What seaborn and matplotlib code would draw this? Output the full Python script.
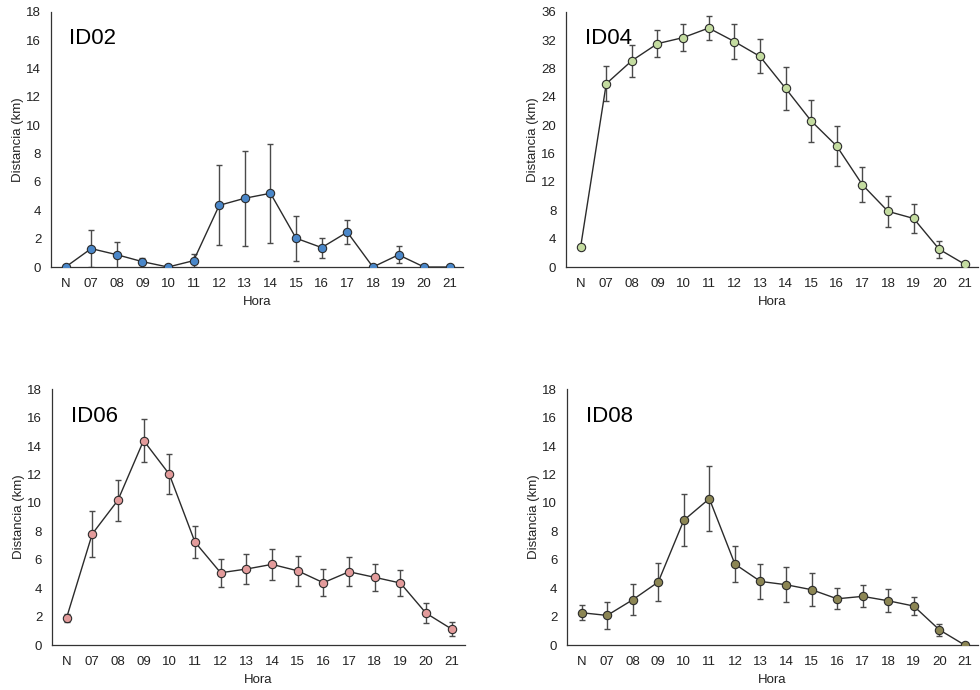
import numpy as np
import pandas as pd
import matplotlib
matplotlib.use('Agg')
import matplotlib.pyplot as plt
import seaborn as sns

sns.set_style('white')
plt.rcParams['font.family'] = ['Liberation Sans', 'DejaVu Sans']

# Datos
horas = ['N', '07', '08', '09', '10', '11', '12', '13', '14', '15', '16', '17', '18', '19', '20', '21']

id02_media = [0, 1.3, 0.87, 0.38, 0, 0.45, 4.35, 4.85, 5.2, 2.03, 1.37, 2.46, 0, 0.86, 0, 0]
id02_err = [0, 1.32, 0.93, 0.26, 0, 0.47, 2.83, 3.34, 3.5, 1.59, 0.7, 0.84, 0, 0.6, 0, 0]

id04_media = [2.85, 25.85, 29.1, 31.5, 32.35, 33.7, 31.8, 29.7, 25.2, 20.6, 17.05, 11.6, 7.85, 6.85, 2.5, 0.38]
id04_err = [0, 2.5, 2.25, 1.9, 1.9, 1.7, 2.5, 2.4, 3.0, 2.95, 2.85, 2.5, 2.15, 2.1, 1.23, 0]

id06_media = [1.92, 7.82, 10.19, 14.39, 12.02, 7.25, 5.09, 5.35, 5.68, 5.23, 4.39, 5.16, 4.77, 4.37, 2.25, 1.13]
id06_err = [0.3, 1.6, 1.45, 1.5, 1.4, 1.13, 0.97, 1.04, 1.07, 1.05, 0.96, 1.02, 0.97, 0.92, 0.7, 0.47]

id08_media = [2.28, 2.09, 3.19, 4.44, 8.78, 10.3, 5.7, 4.48, 4.25, 3.9, 3.26, 3.43, 3.12, 2.75, 1.08, 0]
id08_err = [0.52, 0.92, 1.1, 1.34, 1.83, 2.28, 1.27, 1.23, 1.22, 1.15, 0.74, 0.78, 0.82, 0.63, 0.41, 0]

paneles = [
    ('ID02', id02_media, id02_err, '#4a87c9', 18, 2, [0.052, 0.613, 0.420, 0.370]),
    ('ID04', id04_media, id04_err, '#c4dca0', 36, 4, [0.5776, 0.613, 0.420, 0.370]),
    ('ID06', id06_media, id06_err, '#e39b9b', 18, 2, [0.053, 0.065, 0.421, 0.371]),
    ('ID08', id08_media, id08_err, '#8c8654', 18, 2, [0.5786, 0.065, 0.419, 0.371]),
]

fig = plt.figure(figsize=(9.8, 6.9), dpi=100)

for nombre, media, err, color, ymax, paso, pos in paneles:
    ax = fig.add_axes(pos)
    df = pd.DataFrame({'x': np.arange(len(horas)), 'y': media, 'e': err})
    ax.errorbar(df['x'], df['y'], yerr=df['e'], fmt='none', ecolor='#4a4a4a',
                elinewidth=1.0, capsize=2.5, capthick=1.0, zorder=2)
    sns.lineplot(data=df, x='x', y='y', ax=ax, color='#2b2b2b', linewidth=1.0,
                 marker='o', markersize=6, markerfacecolor=color,
                 markeredgecolor='#2b2b2b', markeredgewidth=0.8, zorder=3)
    ax.set_xlim(-0.57, 15.5)
    ax.set_ylim(0, ymax)
    ax.set_yticks(np.arange(0, ymax + 1, paso))
    ax.set_xticks(np.arange(len(horas)))
    ax.set_xticklabels(horas)
    ax.set_xticks(np.arange(-0.5, len(horas), 1), minor=True)
    ax.tick_params(axis='x', which='major', length=0, labelsize=9.5, pad=8, colors='#222222')
    ax.tick_params(axis='x', which='minor', length=4, width=0.9, direction='out', color='#333333')
    ax.tick_params(axis='y', length=4, width=0.9, direction='out', labelsize=9.5,
                   colors='#222222', pad=3)
    ax.tick_params(axis='y', color='#333333')
    for s in ['top', 'right']:
        ax.spines[s].set_visible(False)
    for s in ['left', 'bottom']:
        ax.spines[s].set_color('#333333')
        ax.spines[s].set_linewidth(0.9)
    ax.set_xlabel('Hora', fontsize=9.5, labelpad=4, color='#222222')
    ax.set_ylabel('Distancia (km)', fontsize=9.5, labelpad=2, color='#222222')
    ax.text(0.045, 0.895, nombre, transform=ax.transAxes, fontsize=16,
            va='center', ha='left', color='black')

fig.savefig('out.png', dpi=100)
